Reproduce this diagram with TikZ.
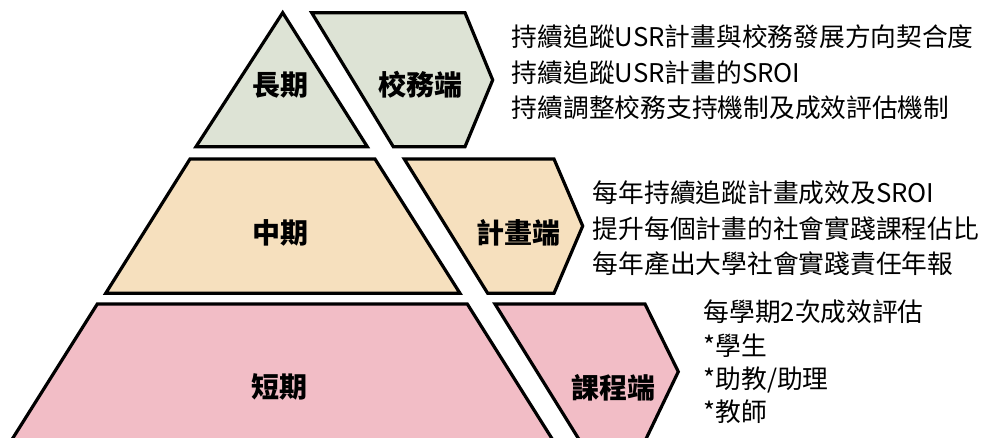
\documentclass[tikz,border=0pt]{standalone}
\usepackage{fontspec}
\setmainfont{Noto Sans CJK TC}
\definecolor{gfill}{RGB}{221,227,213}
\definecolor{tfill}{RGB}{246,224,190}
\definecolor{pfill}{RGB}{242,189,198}
\tikzset{
  tier/.style={draw=black, line width=2.4pt},
  lab/.style={font=\fontsize{21}{24}\selectfont\bfseries, inner sep=0pt},
  desc/.style={font=\fontsize{19.3}{26.5}\selectfont, align=left, anchor=west, inner sep=0pt},
}
\begin{document}
\begin{tikzpicture}[x=0.75pt,y=-0.75pt]
\useasboundingbox (0,0) rectangle (983,437);
\clip (0,0) rectangle (983,437);
\fill[white] (0,0) rectangle (983,437);
% long term
\draw[tier, fill=gfill] (282.7,12.7) -- (367.3,146.7) -- (196,146.7) -- cycle;
\draw[tier, fill=gfill] (311.7,12.7) -- (465,12.7) -- (492.7,80) -- (465,146.7) -- (393.3,146.7) -- cycle;
% mid term
\draw[tier, fill=tfill] (190,159) -- (375,159) -- (460,293.3) -- (105.7,293.3) -- cycle;
\draw[tier, fill=tfill] (404.3,159) -- (554,159) -- (582.7,226) -- (554,293.3) -- (487.7,293.3) -- cycle;
% short term
\draw[tier, fill=pfill] (97.3,304) -- (467.3,304) -- (556,445) -- (8.5,445) -- cycle;
\draw[tier, fill=pfill] (495,304) -- (645,304) -- (678.3,371.7) -- (645,441) -- (580,441) -- cycle;
% labels
\node[lab] (l1) at (280,85) {長期};
\node[lab] (s1) at (420,85) {校務端};
\node[lab] (l2) at (280,233.3) {中期};
\node[lab] (s2) at (518.3,233.3) {計畫端};
\node[lab] (l3) at (279.3,386.7) {短期};
\node[lab] (s3) at (613.3,388.3) {課程端};
% descriptions
\node[desc] (d1) at (511.7,72.5) {持續追蹤USR計畫與校務發展方向契合度\\持續追蹤USR計畫的SROI\\持續調整校務支持機制及成效評估機制};
\node[desc] (d2) at (592.7,228.3) {每年持續追蹤計畫成效及SROI\\提升每個計畫的社會實踐課程佔比\\每年產出大學社會實踐責任年報};
\node[desc, font=\fontsize{19.3}{25}\selectfont] (d3) at (703.3,362) {每學期2次成效評估\\*學生\\*助教/助理\\*教師};
\end{tikzpicture}
\end{document}
